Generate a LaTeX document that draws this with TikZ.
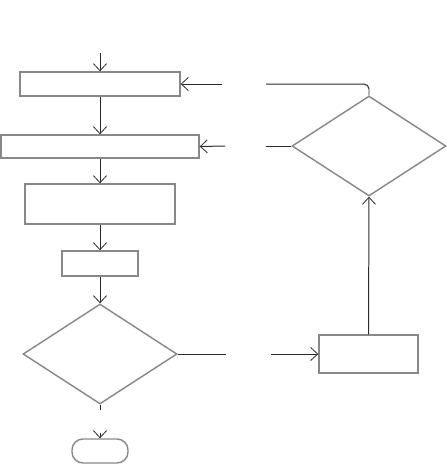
\documentclass[tikz,border=0pt]{standalone}
\usepackage{tikz}
\usetikzlibrary{shapes,shapes.geometric,arrows,arrows.meta,positioning}
\usepackage{xcolor}
\definecolor{boxgrey}{HTML}{888888}
\definecolor{linegrey}{HTML}{2a2a2a}

\begin{document}
\begin{tikzpicture}[x=1pt,y=-1pt,
	procbox/.style={draw=boxgrey, line width=0.5mm, rectangle, inner sep=0pt},
	decbox/.style={draw=boxgrey, line width=0.5mm, diamond, inner sep=0pt, minimum width=154pt, minimum height=100pt},
	termbox/.style={draw=boxgrey, line width=0.5mm, rectangle, rounded corners=11pt, inner sep=0pt},
	flow/.style={draw=linegrey, line width=0.35mm, -{Straight Barb[length=7pt,width=13pt,line width=0.8pt]}},
	plain/.style={draw=linegrey, line width=0.35mm}]
	\useasboundingbox (0,0) rectangle (447,464);

	% Left column of boxes
	\node[procbox, minimum width=160pt, minimum height=24pt] (init) at (100,84) {};
	\node[procbox, minimum width=198pt, minimum height=23pt] (update) at (100,146.5) {};
	\node[procbox, minimum width=150pt, minimum height=40pt] (compute) at (100,204) {};
	\node[procbox, minimum width=76pt, minimum height=25pt] (step) at (100,263.5) {};
	\node[decbox] (check) at (100,354) {};
	\node[termbox, minimum width=56pt, minimum height=24pt] (stop) at (100,451) {};

	% Right column
	\node[procbox, minimum width=99pt, minimum height=38pt] (adjust) at (368.5,354) {};
	\node[decbox] (retry) at (369,146) {};

	% Free ends of the broken connectors
	\coordinate (start) at (100,53);
	\coordinate (checkout) at (100,410);
	\coordinate (stopin) at (100,433);
	\coordinate (rightout) at (226,354);
	\coordinate (rightin) at (271,354);
	\coordinate (retryout) at (266,146);
	\coordinate (retryin) at (225,146);
	\coordinate (loopout) at (266,84);
	\coordinate (loopin) at (222,84);

	% Main flow
	\draw[flow] (start) -- (init);
	\draw[flow] (init) -- (update);
	\draw[flow] (update) -- (compute);
	\draw[flow] (compute) -- (step);
	\draw[flow] (step) -- (check);
	\draw[plain] (check.south) -- (checkout);
	\draw[flow] (stopin) -- (stop);

	% Loop back on the right
	\draw[plain] (check.east) -- (rightout);
	\draw[flow] (rightin) -- (adjust.west);
	\draw[flow] (adjust.north) -- (retry.south);
	\draw[plain] (retry.west) -- (retryout);
	\draw[flow] (retryin) -- (update.east);
	\draw[plain, rounded corners=5pt] (retry.north) |- (loopout);
	\draw[flow] (loopin) -- (init.east);
\end{tikzpicture}
\end{document}
